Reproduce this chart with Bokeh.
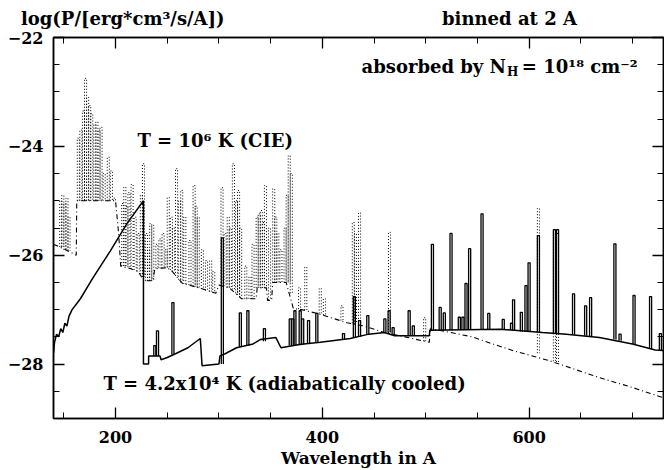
import numpy as np
from bokeh.plotting import figure
from bokeh.models import Label, FixedTicker, LinearAxis, Range1d
from bokeh.embed import file_html
from bokeh.resources import INLINE

# ---------------- data ----------------
# T = 4.2x10^4 K (adiabatically cooled) : continuum vertices
adiab_cont_wl = [140, 141, 143, 145, 147, 149, 151, 153, 155, 158, 162, 166, 178, 195, 211, 227,
                 227, 232, 232, 243, 244, 250, 258, 270, 282, 283.7, 300, 301, 306, 317, 333, 340,
                 355, 360, 375, 382, 398, 427, 445, 460, 470, 503.5, 504, 572, 613, 636, 668, 700,
                 722, 730]
adiab_cont_logp = [-27.8, -27.6, -27.45, -27.5, -27.35, -27.42, -27.25, -27.3, -27.12, -27.0, -26.9,
                   -26.8, -26.42, -25.92, -25.42, -25.0, -28.0, -28.0, -27.85, -27.85, -27.92, -27.88,
                   -27.81, -27.7, -27.53, -28.03, -28.0, -27.85, -27.81, -27.7, -27.63, -27.55, -27.51,
                   -27.7, -27.65, -27.63, -27.6, -27.53, -27.45, -27.42, -27.48, -27.48, -27.38, -27.36,
                   -27.42, -27.45, -27.51, -27.63, -27.74, -27.75]
# emission lines: wavelength, base, peak
adiab_line_wl = [238, 240.6, 255.5, 303.3, 320.7, 328, 344, 369, 371.5, 373.5, 378.6, 381, 386.7,
                 394.7, 420.5, 431, 436, 444, 460.5, 464.6, 468.5, 484, 488, 506.5, 514, 518, 524.5,
                 532.5, 536, 539, 542.5, 554.5, 561, 575, 583, 585, 592.5, 597, 600, 609, 624.5,
                 627.5, 643, 654.7, 659.5, 683, 688, 701.5, 717.5, 727]
adiab_line_base = [-27.85, -27.85, -27.83, -28.0, -27.68, -27.66, -27.58, -27.66, -27.66, -27.66,
                   -27.64, -27.64, -27.62, -27.6, -27.55, -27.52, -27.5, -27.45, -27.42, -27.42,
                   -27.45, -27.48, -27.48, -27.38, -27.38, -27.38, -27.38, -27.37, -27.37, -27.37,
                   -27.37, -27.36, -27.36, -27.36, -27.38, -27.38, -27.4, -27.4, -27.4, -27.41,
                   -27.43, -27.43, -27.46, -27.48, -27.49, -27.55, -27.57, -27.63, -27.72, -27.75]
adiab_line_peak = [-27.66, -27.39, -26.87, -25.68, -27.06, -27.02, -27.35, -27.17, -27.17, -27.02,
                   -27.02, -27.17, -27.2, -27.07, -27.44, -26.76, -27.2, -27.11, -27.17, -27.02,
                   -27.33, -27.02, -27.3, -25.8, -26.96, -27.06, -25.6, -27.14, -27.14, -26.52,
                   -25.88, -25.24, -27.07, -27.18, -27.25, -26.82, -27.05, -26.56, -26.14, -25.64,
                   -25.53, -25.53, -26.71, -26.93, -26.78, -25.79, -27.45, -26.74, -26.76, -27.44]

# T = 10^6 K (CIE) : continuum vertices
cie_cont_wl = [140, 146, 157, 162, 162.5, 200, 203, 205, 215, 222, 227.5, 236, 238, 250, 255, 265,
               281, 297, 300, 310, 322, 336, 337, 346, 347, 351, 352, 365, 372, 380, 395, 424, 440,
               460, 480, 503.5, 504.5, 524, 545, 560, 584, 620, 668, 700, 730]
cie_cont_logp = [-25.8, -25.85, -25.95, -26.0, -25.0, -25.0, -25.6, -26.2, -26.25, -26.3, -26.47,
                 -26.47, -26.25, -26.23, -26.3, -26.52, -26.6, -26.7, -26.55, -26.6, -26.8, -26.8,
                 -26.6, -26.6, -26.83, -26.83, -26.5, -26.5, -26.98, -27.0, -27.07, -27.24, -27.3,
                 -27.42, -27.5, -27.6, -27.35, -27.42, -27.5, -27.6, -27.75, -27.94, -28.25,
                 -28.43, -28.62]
cie_line_wl = [147, 149, 151, 153, 155,
               164, 166.5, 169, 171, 173, 175, 177, 180, 182, 184, 186, 189, 193, 196, 199,
               207, 209, 211, 213, 216, 219, 222, 225, 227,
               230, 232, 234, 236, 240, 243, 246, 249, 251, 254, 256, 259, 262, 264, 267,
               272, 276, 278, 280, 284, 288, 292, 295,
               303, 306, 309, 311, 314, 317, 319, 321,
               326, 330, 333,
               337, 339, 341, 343, 345, 349, 353, 355, 357, 360, 364, 366, 368, 370,
               378, 384, 398, 402, 419, 430, 432, 436, 465, 499, 609, 624.5, 627.5]
cie_line_base = [-25.85, -25.85, -25.9, -25.9, -25.92,
                 -25.0, -25.0, -25.0, -25.0, -25.0, -25.0, -25.0, -25.0, -25.0, -25.0, -25.0,
                 -25.0, -25.0, -25.0, -25.0,
                 -26.2, -26.2, -26.2, -26.22, -26.25, -26.27, -26.3, -26.35, -26.4,
                 -26.47, -26.47, -26.47, -26.47, -26.24, -26.24, -26.24, -26.23, -26.23, -26.27,
                 -26.3, -26.38, -26.45, -26.5, -26.53,
                 -26.55, -26.57, -26.58, -26.6, -26.62, -26.65, -26.67, -26.69,
                 -26.56, -26.57, -26.59, -26.6, -26.63, -26.7, -26.73, -26.77,
                 -26.8, -26.8, -26.8,
                 -26.6, -26.6, -26.6, -26.6, -26.6, -26.83, -26.5, -26.5, -26.5, -26.5, -26.5,
                 -26.5, -26.5, -26.7,
                 -26.99, -27.01, -27.07, -27.1, -27.2, -27.25, -27.26, -27.28, -27.43, -27.58,
                 -27.8, -27.95, -27.96]
cie_line_peak = [-25.0, -24.9, -25.05, -24.95, -25.3,
                 -23.85, -23.7, -23.35, -22.75, -23.1, -23.25, -23.4, -23.6, -23.55, -23.7, -23.65,
                 -24.5, -24.2, -24.45, -24.95,
                 -25.05, -24.75, -25.1, -24.85, -24.7, -25.3, -25.6, -24.9, -24.32,
                 -25.6, -25.9, -25.42, -25.45, -25.8, -25.7, -25.6, -25.9, -24.94, -25.3, -25.5,
                 -24.41, -25.0, -24.81, -25.3,
                 -25.73, -24.72, -25.1, -25.31, -25.9, -26.1, -26.1, -26.3,
                 -24.76, -25.6, -25.3, -25.5, -24.32, -25.0, -24.81, -25.5,
                 -26.2, -26.4, -25.8,
                 -25.3, -25.24, -25.18, -25.4, -24.72, -25.5, -24.78, -25.3, -25.6, -25.9, -25.5,
                 -24.9, -24.17, -24.5,
                 -26.6, -26.22, -26.61, -26.8, -26.93, -25.4, -25.6, -25.22, -25.58, -27.15,
                 -25.14, -25.53, -25.6]

x_major = [200, 400, 600]
x_minor = [150, 200, 250, 300, 350, 400, 450, 500, 550, 600, 650, 700]
y_major = [-28, -26, -24, -22]
y_minor = [-29, -28.5, -28, -27.5, -27, -26.5, -26, -25.5, -25, -24.5, -24, -23.5, -23, -22.5, -22]

# header texts above the frame, anchored at wavelength positions
header_wl = [207, 581]
header_text = ["log(P/[erg*cm³/s/A])", "binned at 2 A"]


def spike_paths(wl, base, peak, half=1.0):
    xs, ys = [], []
    for w, b, t in zip(wl, base, peak):
        xs.append([w - half, w - half, w + half, w + half])
        ys.append([b, t, t, b])
    return xs, ys


FONT = "DejaVu Serif"

p = figure(width=664, height=470, x_range=Range1d(140, 730), y_range=Range1d(-29, -22),
           output_backend="svg", toolbar_location=None, title_location=None,
           min_border_left=53, min_border_right=1, min_border_top=37, min_border_bottom=52)
p.xgrid.visible = False
p.ygrid.visible = False
p.outline_line_color = "black"
p.outline_line_width = 1.5
p.background_fill_color = "white"
p.border_fill_color = "white"

# CIE (dash-dot continuum, dotted lines)
p.line(cie_cont_wl, cie_cont_logp, line_color="black", line_width=1.1, line_dash="5 3 1 3")
cx, cy = spike_paths(cie_line_wl, cie_line_base, cie_line_peak)
p.multi_line(cx, cy, line_color="black", line_width=1.0, line_dash="1 2")

# adiabatically cooled (solid)
p.line(adiab_cont_wl, adiab_cont_logp, line_color="black", line_width=1.5)
ax_, ay_ = spike_paths(adiab_line_wl, adiab_line_base, adiab_line_peak)
p.multi_line(ax_, ay_, line_color="black", line_width=1.3)


def style_axis(ax, labels=True):
    ax.axis_line_color = "black"
    ax.axis_line_width = 1.5
    ax.major_tick_in = 11
    ax.major_tick_out = 0
    ax.minor_tick_in = 6
    ax.minor_tick_out = 0
    ax.major_tick_line_width = 1.3
    ax.minor_tick_line_width = 1.0
    ax.major_label_text_font = FONT
    ax.major_label_text_font_style = "bold"
    if labels:
        ax.major_label_text_font_size = "16px"
        ax.major_label_text_color = "black"
    else:
        ax.major_label_text_font_size = "1px"
        ax.major_label_text_color = None
        ax.major_label_standoff = 0


xa = p.xaxis[0]
xa.ticker = FixedTicker(ticks=x_major, minor_ticks=x_minor)
style_axis(xa)
xa.major_label_standoff = 12
xa.axis_label = "Wavelength in A"
xa.axis_label_text_font = FONT
xa.axis_label_text_font_style = "bold"
xa.axis_label_text_font_size = "17px"
xa.axis_label_text_color = "black"
xa.axis_label_standoff = 2

ya = p.yaxis[0]
ya.ticker = FixedTicker(ticks=y_major, minor_ticks=y_minor)
style_axis(ya)
ya.major_label_standoff = 10

top = LinearAxis(ticker=FixedTicker(ticks=x_major, minor_ticks=x_minor))
style_axis(top, labels=False)
p.add_layout(top, "above")

# outer top axis used only to carry the two header texts
header = LinearAxis(ticker=FixedTicker(ticks=header_wl, minor_ticks=[]))
header.axis_line_color = None
header.major_tick_line_color = None
header.minor_tick_line_color = None
header.major_tick_in = 0
header.major_tick_out = 0
header.major_label_overrides = {w: t for w, t in zip(header_wl, header_text)}
header.major_label_text_font = FONT
header.major_label_text_font_style = "bold"
header.major_label_text_font_size = "18px"
header.major_label_text_color = "black"
header.major_label_standoff = 9
p.add_layout(header, "above")

right = LinearAxis(ticker=FixedTicker(ticks=y_major, minor_ticks=y_minor))
style_axis(right, labels=False)
p.add_layout(right, "right")


def lab(x, y, text, size="18px", align="left", baseline="middle"):
    p.add_layout(Label(x=x, y=y, text=text, text_font=FONT, text_font_style="bold",
                       text_font_size=size, text_align=align, text_baseline=baseline,
                       text_color="black"))


lab(577.7, -22.53, "absorbed by N", align="right")
lab(578.6, -22.64, "H", size="12px")
lab(593.0, -22.53, "= 10¹⁸ cm⁻²")
lab(221.2, -23.89, "T = 10⁶ K (CIE)")
lab(188.3, -28.35, "T = 4.2x10⁴ K (adiabatically cooled)")

open("out.html", "w").write(file_html(p, INLINE))
